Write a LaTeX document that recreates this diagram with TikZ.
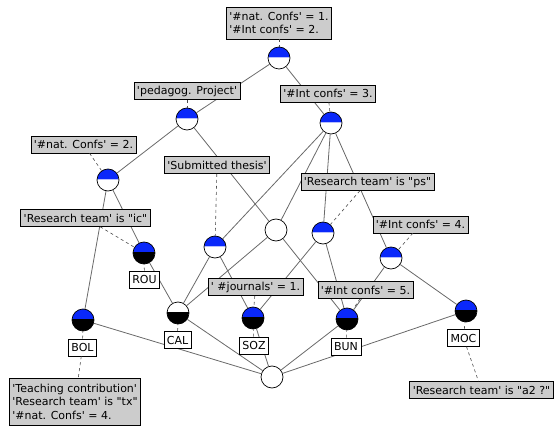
\documentclass[tikz,border=0pt]{standalone}
\usepackage{fontspec}
\setmainfont{DejaVu Sans}[Ligatures=TeXOff]
\usepackage{tikz}
\usetikzlibrary{positioning,calc}
\definecolor{conceptblue}{RGB}{10,40,250}
\definecolor{edgegray}{RGB}{105,105,105}
\definecolor{labelgray}{RGB}{204,204,204}

\begin{document}
\begin{tikzpicture}[x=1pt,y=-1pt,
  concept/.style={circle, draw=black, line width=0.7pt, fill=white, minimum size=22pt, inner sep=0pt},
  attrconcept/.style={concept, path picture={
    \fill[conceptblue] ([yshift=1.3pt]path picture bounding box.west) rectangle (path picture bounding box.north east);
    \draw[conceptblue!30, line width=0.8pt] ([yshift=0.9pt]path picture bounding box.west) -- ([yshift=0.9pt]path picture bounding box.east);}},
  objconcept/.style={concept, path picture={
    \fill[conceptblue] ([yshift=1.3pt]path picture bounding box.west) rectangle (path picture bounding box.north east);
    \fill[black] (path picture bounding box.south west) rectangle ([yshift=1.3pt]path picture bounding box.east);}},
  objonly/.style={concept, path picture={
    \fill[black] (path picture bounding box.south west) rectangle ([yshift=1.3pt]path picture bounding box.east);}},
  edge/.style={draw=edgegray, line width=0.8pt},
  tie/.style={draw=black!70, line width=0.6pt, dash pattern=on 3pt off 3pt},
  lbl/.style={draw=black, line width=0.6pt, fill=labelgray, font=\fontsize{11}{13.5}\selectfont,
    inner xsep=3pt, inner ysep=2pt, minimum height=17pt, align=left},
  objlbl/.style={lbl, fill=white}]

\useasboundingbox (0,0) rectangle (556,430);

% concepts of the lattice
\node[attrconcept] (top) at (279,58) {};
\node[attrconcept] (proj) at (187,119) {};
\node[attrconcept] (int3) at (331,123) {};
\node[attrconcept] (nat2) at (108,180) {};
\node[attrconcept] (thesis) at (215,247) {};
\node[concept] (mid) at (276,230) {};
\node[attrconcept] (ps) at (323,233) {};
\node[attrconcept] (int4) at (391,258) {};
\node[objconcept] (rou) at (144,253) {};
\node[objconcept] (bol) at (83,320) {};
\node[objonly] (cal) at (178,313) {};
\node[objconcept] (soz) at (253,318) {};
\node[objconcept] (bun) at (347,319) {};
\node[objconcept] (moc) at (466,311) {};
\node[concept] (bottom) at (272,377) {};

% edges
\foreach \a/\b in {top/proj, top/int3, proj/nat2, proj/mid, nat2/rou, nat2/bol,
    int3/thesis, int3/mid, int3/ps, int3/int4, rou/cal, thesis/cal, thesis/soz,
    mid/cal, mid/bun, ps/soz, ps/bun, int4/bun, int4/moc,
    bol/bottom, cal/bottom, soz/bottom, bun/bottom, moc/bottom}
  \draw[edge] (\a) -- (\b);

% attribute labels
\node[lbl, minimum height=32pt] (topL) at (279,23) {'\#nat. Confs' = 1.\\'\#Int confs' = 2.};
\node[lbl] (projL) at (187,91) {'pedagog. Project'};
\node[lbl] (int3L) at (328,93.5) {'\#Int confs' = 3.};
\node[lbl] (nat2L) at (83.5,144.5) {'\#nat. Confs' = 2.};
\node[lbl] (icL) at (85.5,218) {'Research team' is "ic"};
\node[lbl] (thesisL) at (217,165) {'Submitted thesis'};
\node[lbl] (psL) at (367.5,182) {'Research team' is "ps"};
\node[lbl] (int4L) at (420.5,224.5) {'\#Int confs' = 4.};
\node[lbl] (int5L) at (365.5,290) {'\#Int confs' = 5.};
\node[lbl] (journL) at (255.5,287) {' \#journals' = 1.};
\node[lbl, minimum height=47pt] (txL) at (75,401.5) {'Teaching contribution'\\'Research team' is "tx"\\'\#nat. Confs' = 4.};
\node[lbl] (a2L) at (481.5,390) {'Research team' is "a2 ?"};

% object labels
\node[objlbl] (rouL) at (144.5,279.5) {ROU};
\node[objlbl] (bolL) at (82.5,347.5) {BOL};
\node[objlbl] (calL) at (177.5,340) {CAL};
\node[objlbl] (sozL) at (254,345.5) {SOZ};
\node[objlbl] (bunL) at (346,346.5) {BUN};
\node[objlbl] (mocL) at (463.5,338) {MOC};

% ties from labels to concepts
\foreach \a/\b in {topL/top, projL/proj, int3L/int3, nat2L/nat2, icL/rou, thesisL/thesis,
    psL/ps, int4L/int4, int5L/bun, journL/soz, rouL/rou, bolL/bol, calL/cal,
    sozL/soz, bunL/bun, mocL/moc, bolL/txL, mocL/a2L}
  \draw[tie] (\a) -- (\b);
\end{tikzpicture}
\end{document}
